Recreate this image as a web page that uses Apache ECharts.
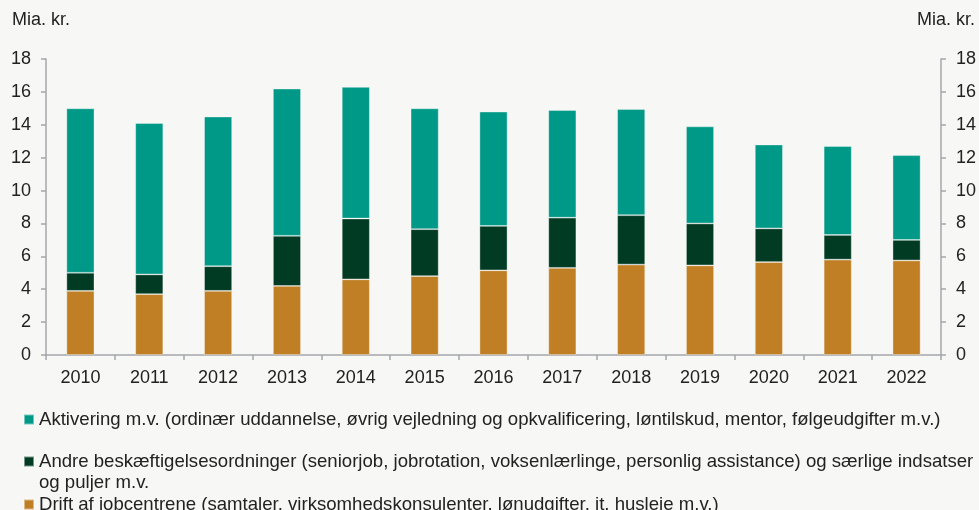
<!DOCTYPE html>
<html>
<head>
<meta charset="utf-8">
<script src="https://cdn.jsdelivr.net/npm/echarts@6/dist/echarts.min.js"></script>
<style>
  html, body { margin: 0; padding: 0; background: #f7f7f5; }
  #chart { width: 979px; height: 510px; }
</style>
</head>
<body>
<div id="chart"></div>
<script>
// Udgifter til beskæftigelsesindsatsen, mia. kr.
const years = ['2010','2011','2012','2013','2014','2015','2016','2017','2018','2019','2020','2021','2022'];

const nameAktivering = 'Aktivering m.v. (ordinær uddannelse, øvrig vejledning og opkvalificering, løntilskud, mentor, følgeudgifter m.v.)';
const nameAndre = 'Andre beskæftigelsesordninger (seniorjob, jobrotation, voksenlærlinge, personlig assistance) og særlige indsatser og puljer m.v.';
const nameDrift = 'Drift af jobcentrene (samtaler, virksomhedskonsulenter, lønudgifter, it, husleje m.v.)';

const drift      = [3.9, 3.7, 3.9, 4.2, 4.6, 4.8, 5.15, 5.3, 5.5, 5.45, 5.65, 5.8, 5.75];
const andre      = [1.1, 1.2, 1.5, 3.05, 3.7, 2.85, 2.7, 3.05, 3.0, 2.55, 2.05, 1.5, 1.25];
const aktivering = [10.0, 9.2, 9.1, 8.95, 8.0, 7.35, 6.95, 6.55, 6.45, 5.9, 5.1, 5.4, 5.15];

const yTicks = { min: 0, max: 18, interval: 2 };
const unitLabel = 'Mia. kr.';

const colTeal = '#009886';
const colDark = '#023b24';
const colOrange = '#c07f24';
const axisGrey = '#a4a7aa';
const textCol = '#222222';
const font = 'Liberation Sans, Arial, sans-serif';
const legendFontSize = 18.6;

const chart = echarts.init(document.getElementById('chart'), null, { renderer: 'canvas' });

function yAxisDef(pos) {
  return {
    type: 'value',
    position: pos,
    min: yTicks.min, max: yTicks.max, interval: yTicks.interval,
    axisLine: { show: true, lineStyle: { color: axisGrey, width: 1.5 } },
    axisTick: { show: true, inside: false, length: 5, lineStyle: { color: axisGrey, width: 1.5 } },
    axisLabel: { color: textCol, fontSize: 18, fontFamily: font, margin: 15 },
    splitLine: { show: false }
  };
}

function legendDef(name, top, extra) {
  return Object.assign({
    data: [name],
    left: 18,
    top: top,
    orient: 'vertical',
    icon: 'rect',
    itemWidth: 10,
    itemHeight: 10,
    itemGap: 0,
    selectedMode: false,
    textStyle: {
      color: textCol, fontSize: legendFontSize, fontFamily: font, lineHeight: 21,
      width: 950, overflow: 'break'
    }
  }, extra || {});
}

const barStyle = (c) => ({ color: c, borderColor: 'rgba(255,255,255,0.45)', borderWidth: 0.8 });

chart.setOption({
  backgroundColor: '#f7f7f5',
  animation: false,
  grid: { left: 46, right: 37, top: 59, bottom: 155, containLabel: false },
  xAxis: {
    type: 'category',
    data: years,
    axisLine: { show: true, lineStyle: { color: axisGrey, width: 1.5 } },
    axisTick: { show: true, alignWithLabel: false, length: 5, lineStyle: { color: axisGrey, width: 1.5 } },
    axisLabel: { color: textCol, fontSize: 18, fontFamily: font, margin: 14 }
  },
  yAxis: [yAxisDef('left'), yAxisDef('right')],
  legend: [
    legendDef(nameAktivering, 404),
    // the long label wraps; an empty leading line keeps the swatch beside its first line
    legendDef(nameAndre, 425, { formatter: (n) => '\n' + n }),
    legendDef(nameDrift, 489)
  ],
  graphic: [
    { type: 'text', left: 12, top: 11, style: { text: unitLabel, fill: textCol, fontSize: 18, fontFamily: font } },
    { type: 'text', right: 4, top: 11, style: { text: unitLabel, fill: textCol, fontSize: 18, fontFamily: font } }
  ],
  series: [
    { name: nameDrift, type: 'bar', stack: 'total', barWidth: 28, data: drift, itemStyle: barStyle(colOrange) },
    { name: nameAndre, type: 'bar', stack: 'total', barWidth: 28, data: andre, itemStyle: barStyle(colDark) },
    { name: nameAktivering, type: 'bar', stack: 'total', barWidth: 28, data: aktivering, itemStyle: barStyle(colTeal) }
  ]
});
</script>
</body>
</html>
